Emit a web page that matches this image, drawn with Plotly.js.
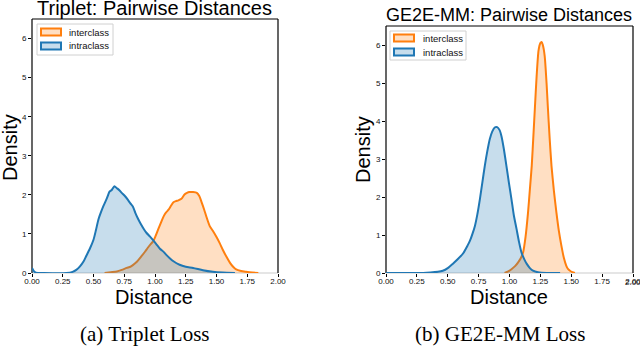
<!DOCTYPE html>
<html>
<head>
<meta charset="utf-8">
<script src="https://cdn.plot.ly/plotly-3.0.1.min.js"></script>
<style>
  html, body { margin: 0; padding: 0; background: #fff; }
  #chart { width: 640px; height: 349px; }
</style>
</head>
<body>
<div id="chart"></div>
<script>
// values
var xTickVals = [0, 0.25, 0.5, 0.75, 1, 1.25, 1.5, 1.75, 2];
var xTickText = ['0.00', '0.25', '0.50', '0.75', '1.00', '1.25', '1.50', '1.75', '2.00'];
var yTickVals = [0, 1, 2, 3, 4, 5, 6];

var seriesNames = ['interclass', 'intraclass'];
var panelTitles = ['Triplet: Pairwise Distances', 'GE2E-MM: Pairwise Distances'];
var panelCaptions = ['(a) Triplet Loss', '(b) GE2E-MM Loss'];

// Triplet panel
var tripletInterX = [0.59, 0.64, 0.69, 0.73, 0.77, 0.80, 0.82, 0.85, 0.89, 0.92, 0.94, 0.965, 0.985, 1.005, 1.025, 1.05, 1.07, 1.09, 1.11, 1.13, 1.15, 1.17, 1.19, 1.215, 1.24, 1.26, 1.28, 1.31, 1.34, 1.36, 1.38, 1.40, 1.42, 1.445, 1.47, 1.50, 1.525, 1.55, 1.58, 1.61, 1.635, 1.66, 1.70, 1.74, 1.79, 1.84];
var tripletInterY = [0, 0.02, 0.04, 0.08, 0.13, 0.16, 0.20, 0.28, 0.43, 0.55, 0.64, 0.74, 0.81, 0.95, 1.11, 1.30, 1.45, 1.55, 1.62, 1.72, 1.81, 1.84, 1.86, 1.90, 2.01, 2.05, 2.07, 2.07, 2.05, 1.97, 1.80, 1.62, 1.42, 1.20, 1.08, 0.92, 0.77, 0.60, 0.42, 0.26, 0.16, 0.09, 0.05, 0.03, 0.01, 0];
var tripletIntraX = [0, 0.015, 0.03, 0.10, 0.28, 0.33, 0.36, 0.39, 0.42, 0.44, 0.47, 0.50, 0.52, 0.54, 0.56, 0.58, 0.61, 0.63, 0.65, 0.67, 0.69, 0.71, 0.73, 0.755, 0.78, 0.80, 0.82, 0.84, 0.86, 0.88, 0.91, 0.93, 0.96, 0.985, 1.01, 1.04, 1.07, 1.09, 1.12, 1.15, 1.20, 1.25, 1.31, 1.39, 1.47, 1.55, 1.65];
var tripletIntraY = [0.13, 0.05, 0.01, 0, 0, 0.03, 0.08, 0.17, 0.30, 0.43, 0.62, 0.85, 1.10, 1.37, 1.55, 1.71, 1.92, 2.08, 2.13, 2.22, 2.17, 2.12, 2.05, 1.97, 1.87, 1.78, 1.70, 1.54, 1.40, 1.28, 1.12, 1.03, 0.93, 0.84, 0.74, 0.62, 0.54, 0.47, 0.38, 0.30, 0.21, 0.16, 0.13, 0.07, 0.03, 0.01, 0];

// GE2E-MM panel
var ge2eInterX = [0.96, 0.99, 1.016, 1.045, 1.07, 1.09, 1.11, 1.13, 1.15, 1.165, 1.18, 1.195, 1.205, 1.22, 1.235, 1.25, 1.26, 1.27, 1.285, 1.30, 1.31, 1.325, 1.34, 1.36, 1.38, 1.40, 1.42, 1.44, 1.46, 1.475, 1.49, 1.51, 1.53];
var ge2eInterY = [0, 0.04, 0.10, 0.18, 0.28, 0.38, 0.54, 0.95, 1.59, 2.20, 2.82, 3.70, 4.31, 5.20, 5.85, 6.05, 6.08, 6.00, 5.71, 5.00, 4.40, 3.55, 2.82, 2.15, 1.59, 1.10, 0.72, 0.40, 0.19, 0.10, 0.06, 0.02, 0];
var ge2eIntraX = [0, 0.30, 0.36, 0.42, 0.46, 0.50, 0.54, 0.58, 0.625, 0.66, 0.68, 0.70, 0.72, 0.74, 0.76, 0.78, 0.80, 0.82, 0.84, 0.86, 0.88, 0.90, 0.92, 0.935, 0.955, 0.975, 0.995, 1.016, 1.035, 1.057, 1.077, 1.097, 1.12, 1.14, 1.165, 1.19, 1.23, 1.30, 1.41];
var ge2eIntraY = [0, 0, 0.01, 0.03, 0.06, 0.13, 0.24, 0.36, 0.52, 0.72, 0.85, 1.03, 1.24, 1.55, 1.94, 2.38, 2.82, 3.20, 3.52, 3.72, 3.83, 3.84, 3.76, 3.60, 3.25, 2.82, 2.38, 1.94, 1.52, 1.16, 0.82, 0.54, 0.36, 0.24, 0.13, 0.06, 0.02, 0, 0];

var W = 640, H = 349;
function px(x) { return x / W; }
function py(y) { return 1 - y / H; }

var orange = '#ff7f0e', blue = '#1f77b4';
var orangeFill = 'rgba(255,127,14,0.25)', blueFill = 'rgba(31,119,180,0.25)';
var sans = 'Liberation Sans, Arial, sans-serif';
var serif = 'Liberation Serif, Times New Roman, serif';

function kde(x, y, color, fill, xa, ya, name) {
    return {
        type: 'scatter', mode: 'lines', name: name,
        x: x, y: y, xaxis: xa, yaxis: ya,
        fill: 'tozeroy', fillcolor: fill,
        line: { color: color, width: 2, shape: 'spline', smoothing: 0.6 },
        showlegend: false, hoverinfo: 'skip'
    };
}

var data = [
    kde(tripletInterX, tripletInterY, orange, orangeFill, 'x', 'y', seriesNames[0]),
    kde(tripletIntraX, tripletIntraY, blue, blueFill, 'x', 'y', seriesNames[1]),
    kde(ge2eInterX, ge2eInterY, orange, orangeFill, 'x2', 'y2', seriesNames[0]),
    kde(ge2eIntraX, ge2eIntraY, blue, blueFill, 'x2', 'y2', seriesNames[1])
];

var tickFont = { family: sans, size: 8, color: '#111' };

function xAxis(domain, anchor) {
    return {
        domain: domain, anchor: anchor, range: [0, 2],
        tickvals: xTickVals, ticktext: xTickText,
        ticks: 'outside', ticklen: 3, tickwidth: 1, tickcolor: '#000',
        ticklabelstandoff: -3, ticklabeloverflow: 'allow',
        tickfont: tickFont,
        showgrid: false, zeroline: false, showline: false, fixedrange: true
    };
}
function yAxis(domain, anchor) {
    return {
        domain: domain, anchor: anchor, range: [0, 6.5],
        tickvals: yTickVals,
        ticks: 'outside', ticklen: 3, tickwidth: 1, tickcolor: '#000',
        tickfont: tickFont,
        showgrid: false, zeroline: false, showline: false, fixedrange: true
    };
}

// axes frames: black left/top/right, light bottom
function frame(xr, yr) {
    var d = { xref: xr + ' domain', yref: yr + ' domain', type: 'line', layer: 'below' };
    function ln(x0, y0, x1, y1, c) {
        return Object.assign({}, d, { x0: x0, y0: y0, x1: x1, y1: y1, line: { color: c, width: 1.2 } });
    }
    return [
        ln(0, 0, 1, 0, '#cccccc'),
        ln(0, 0, 0, 1, '#000'),
        ln(0, 1, 1, 1, '#000'),
        ln(1, 0, 1, 1, '#000')
    ];
}

// hand-drawn legend box with patches
function legend(box, patchX, rows, textX) {
    var shapes = [{
        type: 'rect', xref: 'paper', yref: 'paper',
        x0: px(box[0]), x1: px(box[2]), y0: py(box[1]), y1: py(box[3]),
        line: { color: '#d0d0d0', width: 1 }, fillcolor: 'rgba(255,255,255,0.8)'
    }];
    var notes = [];
    var colors = [[orange, orangeFill], [blue, blueFill]];
    rows.forEach(function (cy, i) {
        shapes.push({
            type: 'rect', xref: 'paper', yref: 'paper',
            x0: px(patchX[0]), x1: px(patchX[1]), y0: py(cy - 3.5), y1: py(cy + 3.5),
            line: { color: colors[i][0], width: 2 }, fillcolor: colors[i][1]
        });
        notes.push({
            xref: 'paper', yref: 'paper', x: px(textX), y: py(cy),
            xanchor: 'left', yanchor: 'middle', showarrow: false,
            text: seriesNames[i], font: { family: sans, size: 9.5, color: '#111' }
        });
    });
    return { shapes: shapes, notes: notes };
}

var legA = legend([37, 24, 113, 55], [41, 61], [32, 46], 67);
var legB = legend([390, 31, 466, 60], [394, 414], [38, 52], 421);

function note(text, x, y, size, family, angle) {
    return {
        xref: 'paper', yref: 'paper', x: px(x), y: py(y),
        xanchor: 'center', yanchor: 'middle', showarrow: false,
        text: text, textangle: angle || 0,
        font: { family: family, size: size, color: '#000' }
    };
}

// the last tick label of the right panel runs past the page edge; Plotly drops it
var lastTick = {
    xref: 'x2', yref: 'paper', x: xTickVals[xTickVals.length - 1], y: py(282),
    xanchor: 'center', yanchor: 'middle', showarrow: false,
    text: xTickText[xTickText.length - 1], font: tickFont
};

var annotations = [
    note(panelTitles[0], 154, 8, 20, sans),
    note(panelTitles[1], 509, 14.5, 18, sans),
    note('Density', 10, 148, 20, sans, -90),
    note('Density', 363, 150, 20, sans, -90),
    note('Distance', 154, 297, 20, sans),
    note('Distance', 509, 297, 20, sans),
    note(panelCaptions[0], 145, 334, 21, serif),
    note(panelCaptions[1], 500, 334, 21, serif),
    lastTick
].concat(legA.notes, legB.notes);

var layout = {
    width: W, height: H,
    margin: { l: 0, r: 0, t: 0, b: 0 },
    paper_bgcolor: '#fff', plot_bgcolor: '#fff',
    showlegend: false,
    xaxis: xAxis([px(32), px(278)], 'y'),
    yaxis: yAxis([py(273), py(19)], 'x'),
    xaxis2: xAxis([px(386), px(633)], 'y2'),
    yaxis2: yAxis([py(273), py(26)], 'x2'),
    shapes: frame('x', 'y').concat(frame('x2', 'y2'), legA.shapes, legB.shapes),
    annotations: annotations
};

Plotly.newPlot('chart', data, layout, { displayModeBar: false, staticPlot: true });
</script>
</body>
</html>
